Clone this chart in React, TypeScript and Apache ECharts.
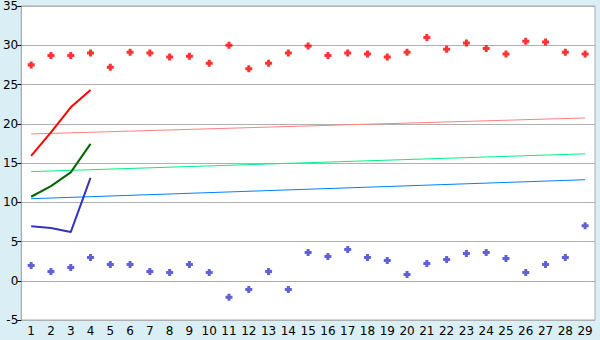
import React, { useEffect, useRef } from "react";
import * as echarts from "echarts";

const categories = Array.from({ length: 29 }, (_, i) => String(i + 1));

const redPoints = [27.5, 28.7, 28.7, 29.0, 27.2, 29.1, 29.0, 28.5, 28.6, 27.7, 30.0, 27.0, 27.7, 29.0, 29.9, 28.7, 29.0, 28.9, 28.5, 29.1, 31.0, 29.5, 30.3, 29.6, 28.9, 30.5, 30.4, 29.1, 28.9];
const bluePoints = [1.95, 1.18, 1.69, 2.96, 2.07, 2.07, 1.18, 1.06, 2.07, 1.06, -2.1, -1.1, 1.18, -1.1, 3.6, 3.09, 3.97, 2.96, 2.58, 0.8, 2.2, 2.7, 3.47, 3.6, 2.83, 1.06, 2.07, 2.96, 7.02];

const redLine = [15.9, 18.9, 22.1, 24.3];
const greenLine = [10.7, 12.06, 13.8, 17.44];
const blueLine = [6.94, 6.73, 6.2, 13.1];

const pinkTrend = [18.7, 20.74];
const greenTrend = [13.9, 16.17];
const blueTrend = [10.45, 12.87];

const yTicks = { min: -5, max: 35, interval: 5 };

const pad = (arr: number[]) => categories.map((_, i) => (i < arr.length ? arr[i] : null));
const ends = (pair: number[]) => categories.map((_, i) => (i === 0 ? pair[0] : i === categories.length - 1 ? pair[1] : null));

const plus = "path://M2,0H5V2H7V5H5V7H2V5H0V2H2Z";

export default function App() {
  const ref = useRef<HTMLDivElement>(null);
  useEffect(() => {
    if (!ref.current) return;
    const chart = echarts.init(ref.current, undefined, { renderer: "svg" });
    const thin = (data: (number | null)[], color: string) => ({
      type: "line",
      data,
      connectNulls: true,
      symbol: "none",
      lineStyle: { color, width: 1 },
      z: 2,
    });
    const thick = (data: (number | null)[], color: string) => ({
      type: "line",
      data,
      symbol: "none",
      lineStyle: { color, width: 2 },
      z: 3,
    });
    const pts = (data: number[], color: string) => ({
      type: "scatter",
      data,
      symbol: plus,
      symbolSize: 7,
      itemStyle: { color },
      z: 4,
    });
    chart.setOption({
      animation: false,
      backgroundColor: "#d9eff5",
      textStyle: { fontFamily: "DejaVu Sans" },
      grid: {
        left: 20,
        top: 5,
        width: 575,
        height: 315,
        show: true,
        backgroundColor: "#ffffff",
        borderColor: "#aaaaaa",
        borderWidth: 1,
      },
      xAxis: {
        type: "category",
        data: categories,
        boundaryGap: true,
        axisLine: { lineStyle: { color: "#aaaaaa" } },
        axisTick: { alignWithLabel: true, length: 5, lineStyle: { color: "#000000" } },
        axisLabel: { color: "#000000", fontSize: 12, margin: 5, interval: 0, fontFamily: "DejaVu Sans" },
        splitLine: { show: false },
      },
      yAxis: {
        type: "value",
        min: yTicks.min,
        max: yTicks.max,
        interval: yTicks.interval,
        axisLine: { show: true, lineStyle: { color: "#aaaaaa" } },
        axisTick: { show: true, length: 4, lineStyle: { color: "#000000" } },
        axisLabel: { color: "#000000", fontSize: 12, margin: 3, fontFamily: "DejaVu Sans" },
        splitLine: { lineStyle: { color: "#b0b0b0", width: 1 } },
      },
      series: [
        thin(ends(pinkTrend), "#ff8080"),
        thin(ends(greenTrend), "#00f080"),
        thin(ends(blueTrend), "#0080ff"),
        thick(pad(redLine), "#ff0000"),
        thick(pad(greenLine), "#006400"),
        thick(pad(blueLine), "#3333bb"),
        pts(redPoints, "#ff0000"),
        pts(bluePoints, "#3a3acc"),
      ],
    });
    return () => chart.dispose();
  }, []);
  return <div ref={ref} style={{ position: "fixed", left: 0, top: 0, width: 600, height: 340 }} />;
}
